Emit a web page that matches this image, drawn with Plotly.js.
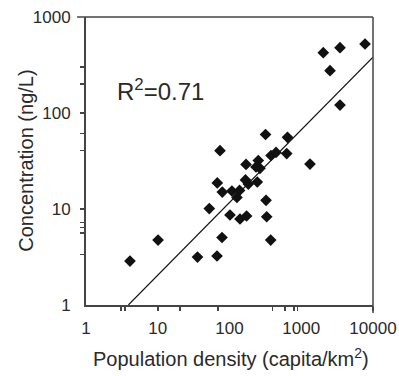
<!DOCTYPE html>
<html>
<head>
<meta charset="utf-8">
<script src="https://cdn.plot.ly/plotly-3.0.1.min.js"></script>
<style>html,body{margin:0;padding:0;background:#fff;}#chart{width:399px;height:376px;}</style>
</head>
<body>
<div id="chart"></div>
<script>
// Population density (capita/km2)
const density = [4.1, 10.1, 35.8, 67, 78.6, 52.3, 67.6, 79.4, 73.7, 101.6, 108, 127, 140, 138, 170, 167, 173, 183, 244, 252, 266, 234, 323, 330, 375, 379, 445, 627, 318, 643, 1324, 2028, 3468, 7740, 2517, 3468];
// Concentration (ng/L)
const concentration = [2.87, 4.75, 3.16, 3.24, 5.05, 10.1, 18.7, 15.0, 40.5, 8.66, 15.4, 13.2, 7.87, 15.6, 29.1, 20.1, 8.45, 18.2, 19.1, 32, 26.5, 27.4, 12.3, 8.3, 4.75, 36.1, 38.8, 37.8, 59.7, 55.8, 29.4, 425, 479, 523, 276, 121];
// log-log regression: log10(y) = fitIntercept + fitSlope*log10(x)
const fitSlope = 0.757;
const fitIntercept = -0.446;
const fitX = [3.9, 10000];
const fitY = fitX.map(x => Math.pow(10, fitIntercept + fitSlope * Math.log10(x)));
const r2Text = 'R<sup>2</sup>=0.71';

const xTickVals = [1, 10, 100, 1000, 10000];
const xTickText = ['1', '10', '100', '1000', '10000'];
const xMinorVals = [3.05, 3.5, 10, 20.4, 69, 400, 594, 790, 890, 10000];
const yTickVals = [1, 10, 100, 1000];
const yTickText = ['1', '10', '100', '1000'];
const yMinorVals = [3.37, 5.62, 6.38, 7.26, 10, 40.5, 61.5, 100, 200, 303];

const axisColor = '#444';
const textColor = '#2a2a2a';
const fontFam = 'Liberation Sans, Arial, Helvetica, sans-serif';

const traces = [
  {
    x: fitX, y: fitY, type: 'scatter', mode: 'lines',
    line: {color: '#111', width: 1.3}, hoverinfo: 'skip', showlegend: false
  },
  {
    x: density, y: concentration, type: 'scatter', mode: 'markers',
    marker: {symbol: 'diamond', size: 9, color: '#111', line: {width: 0}},
    showlegend: false
  }
];

const layout = {
  width: 399, height: 376, autosize: false,
  margin: {l: 86, r: 26, t: 17, b: 71, pad: 0},
  paper_bgcolor: '#fff', plot_bgcolor: '#fff',
  font: {family: fontFam, color: textColor, size: 17},
  showlegend: false,
  xaxis: {
    type: 'log', range: [0, 4], showgrid: false, zeroline: false,
    showline: true, linecolor: axisColor, linewidth: 2,
    tickmode: 'array', tickvals: xTickVals, ticktext: xTickText, ticks: '',
    ticklabelstandoff: 7,
    tickfont: {size: 17, color: textColor, family: fontFam},
    minor: {tickmode: 'array', tickvals: xMinorVals, ticks: 'outside', ticklen: 4, tickwidth: 1.5, tickcolor: axisColor},
    fixedrange: true
  },
  yaxis: {
    type: 'log', range: [0, 3], showgrid: false, zeroline: false,
    showline: true, linecolor: axisColor, linewidth: 2,
    tickmode: 'array', tickvals: yTickVals, ticktext: yTickText, ticks: '',
    ticklabelstandoff: 10,
    tickfont: {size: 17, color: textColor, family: fontFam},
    minor: {tickmode: 'array', tickvals: yMinorVals, ticks: 'outside', ticklen: 4, tickwidth: 1.5, tickcolor: axisColor},
    fixedrange: true
  },
  shapes: [
    {type: 'line', xref: 'paper', yref: 'paper', x0: -0.031, x1: 1, y0: 1, y1: 1, line: {color: axisColor, width: 1.5}},
    {type: 'line', xref: 'paper', yref: 'paper', x0: 1, x1: 1, y0: -0.028, y1: 1, line: {color: axisColor, width: 1.5}}
  ],
  annotations: [
    {text: 'Population density (capita/km<sup>2</sup>)', xref: 'paper', yref: 'paper', x: 0.505, y: -0.184,
     xanchor: 'center', yanchor: 'middle', showarrow: false, font: {size: 20, color: textColor, family: fontFam}},
    {text: 'Concentration (ng/L)', xref: 'paper', yref: 'paper', x: -0.21, y: 0.5, textangle: -90,
     xanchor: 'center', yanchor: 'middle', showarrow: false, font: {size: 20, color: textColor, family: fontFam}},
    {text: r2Text, xref: 'paper', yref: 'paper', x: 0.258, y: 0.747,
     xanchor: 'center', yanchor: 'middle', showarrow: false, font: {size: 24, color: textColor, family: fontFam}}
  ]
};

Plotly.newPlot('chart', traces, layout, {displayModeBar: false, staticPlot: true});
</script>
</body>
</html>
